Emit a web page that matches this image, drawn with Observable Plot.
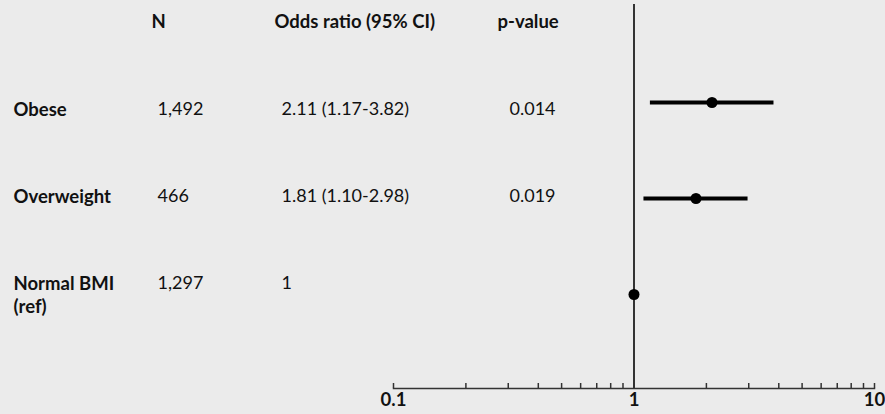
<!DOCTYPE html>
<html>
<head>
<meta charset="utf-8">
<script src="https://cdn.jsdelivr.net/npm/d3@7"></script>
<script src="https://cdn.jsdelivr.net/npm/@observablehq/plot@0.6"></script>
<style>
  html, body { margin: 0; padding: 0; background: #ebebeb; }
  #chart { position: relative; width: 885px; height: 414px; background: #ebebeb; overflow: hidden; }
  #chart svg { position: absolute; left: 0; top: 0; }
</style>
</head>
<body>
<div id="chart"></div>
<script>
// ---- data ----
const groups = ["Obese", "Overweight", "Normal BMI\n(ref)"];
const nValues = ["1,492", "466", "1,297"];
const oddsRatios = [2.11, 1.81, 1];
const ciLow = [1.17, 1.10, null];
const ciHigh = [3.82, 2.98, null];
const pValues = ["0.014", "0.019", ""];
const headers = ["N", "Odds ratio (95% CI)", "p-value"];
const majorTicks = [0.1, 1, 10];
const tickLabels = ["0.1", "1", "10"];

const rows = groups.map((g, i) => ({
  group: g,
  n: nValues[i],
  or: oddsRatios[i],
  lo: ciLow[i],
  hi: ciHigh[i],
  p: pValues[i],
  orText: ciLow[i] == null ? String(oddsRatios[i])
    : `${oddsRatios[i].toFixed(2)} (${ciLow[i].toFixed(2)}-${ciHigh[i].toFixed(2)})`
}));
const ciRows = rows.filter(d => d.lo != null);
const minorTicks = [];
for (const decade of [0.1, 1]) for (let k = 1; k <= 10; k++) minorTicks.push(+(decade * k).toPrecision(3));
const allTicks = Array.from(new Set(minorTicks));

const W = 885, H = 414;
const ink = "#111";
const font = {background: "transparent", fontFamily: "Lato, 'Open Sans', sans-serif", fontSize: "18px", color: ink};

// ---- forest panel ----
const forest = Plot.plot({
  width: W, height: H,
  marginLeft: 393, marginRight: 11, marginTop: 4, marginBottom: 26,
  style: font,
  x: {type: "log", domain: [0.1, 10], axis: null},
  y: {type: "point", domain: groups, range: [101, 294], padding: 0, axis: null},
  marks: [
    Plot.ruleX([1], {stroke: "#333", strokeWidth: 2}),
    Plot.frame({anchor: "bottom", stroke: "#333", strokeWidth: 1.5}),
    Plot.tickX(allTicks, {x: d => d, insetTop: 379, stroke: "#333", strokeWidth: 1.5}),
    Plot.text(majorTicks, {x: d => d, text: (d, i) => tickLabels[i], frameAnchor: "bottom", dy: 17, fontWeight: "bold", fontSize: 18.5, fill: ink}),
    Plot.ruleY(ciRows, {y: "group", x1: "lo", x2: "hi", stroke: "#000", strokeWidth: 4}),
    Plot.dot(rows, {x: "or", y: "group", r: 5.5, fill: "#000", stroke: "none"})
  ]
});

// ---- table panel ----
const colX = {label: 13, n: 157, or: 281, p: 509};
const headX = [151, 274, 497];
const table = Plot.plot({
  width: W, height: H, margin: 0,
  style: font,
  y: {type: "point", domain: ["header", ...groups], range: [22, 283], padding: 0, axis: null},
  marks: [
    ...headers.map((h, i) => Plot.text([h], {y: () => "header", text: d => d, frameAnchor: "left", dx: headX[i], textAnchor: "start", fontWeight: "bold", fontSize: 18.5, fill: ink})),
    Plot.text(rows, {y: "group", text: "group", frameAnchor: "left", dx: colX.label, textAnchor: "start", fontWeight: "bold", fontSize: 18.5, lineAnchor: "top", dy: -10, lineHeight: 1.26, fill: ink}),
    Plot.text(rows, {y: "group", text: "n", frameAnchor: "left", dx: colX.n, textAnchor: "start", fill: ink}),
    Plot.text(rows, {y: "group", text: "orText", frameAnchor: "left", dx: colX.or, textAnchor: "start", fill: ink}),
    Plot.text(rows, {y: "group", text: "p", frameAnchor: "left", dx: colX.p, textAnchor: "start", fill: ink})
  ]
});

const chart = document.getElementById("chart");
chart.appendChild(forest);
chart.appendChild(table);
</script>
</body>
</html>
